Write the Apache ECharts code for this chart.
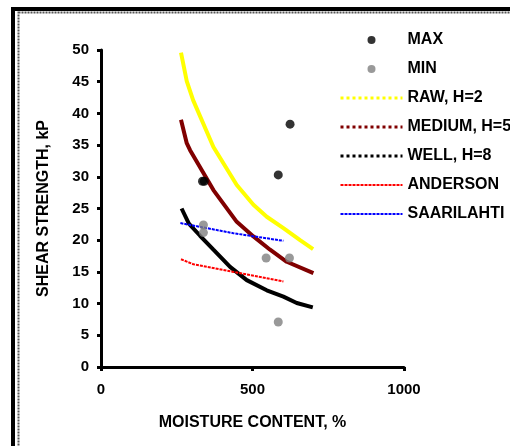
<!DOCTYPE html>
<html><head><meta charset="utf-8">
<script src="https://cdn.jsdelivr.net/npm/echarts@6/dist/echarts.min.js"></script>
<style>html,body{margin:0;padding:0;background:#fff}#c{width:510px;height:446px}</style>
</head><body><div id="c"></div>
<script>
var maxX = [335, 341, 585, 624];
var maxY = [29.3, 29.3, 30.3, 38.3];
var minX = [338, 338, 545, 622, 585];
var minY = [22.4, 21.2, 17.2, 17.2, 7.1];
var rawX = [264, 283, 304, 371, 448, 503, 547, 602, 657, 700];
var rawY = [49.6, 45.1, 42.1, 34.7, 28.7, 25.6, 23.7, 21.9, 20.0, 18.6];
var medX = [264, 283, 294, 371, 448, 503, 558, 613, 701];
var medY = [39.0, 35.3, 34.2, 27.9, 22.9, 20.6, 18.5, 16.6, 14.8];
var wellX = [266, 290, 327, 371, 426, 481, 547, 602, 646, 699];
var wellY = [25.0, 22.6, 20.7, 18.5, 15.8, 13.7, 12.1, 11.1, 10.1, 9.4];
var andX = [264, 305, 437, 602];
var andY = [17.0, 16.2, 15.0, 13.5];
var saaX = [262, 437, 602];
var saaY = [22.7, 21.1, 19.9];
var seriesNames = ['MAX', 'MIN', 'RAW, H=2', 'MEDIUM, H=5', 'WELL, H=8', 'ANDERSON', 'SAARILAHTI'];
var xTicks = [0, 500, 1000];

function pairs(xs, ys) { return xs.map(function (x, i) { return [x, ys[i]]; }); }

var F = '"Liberation Sans", Arial, sans-serif';
var hidden = { color: 'rgba(0,0,0,0)', opacity: 0, borderWidth: 0 };
var chart = echarts.init(document.getElementById('c'));
chart.setOption({
  animation: false,
  backgroundColor: '#fff',
  graphic: [
    { type: 'rect', shape: { x: 13, y: 9, width: 600, height: 500 }, style: { fill: 'none', stroke: '#000', lineWidth: 4 }, silent: true },
    { type: 'rect', shape: { x: 18.5, y: 12.5, width: 600, height: 500 }, style: { fill: 'none', stroke: '#555', lineWidth: 2, lineDash: [2, 1] }, silent: true }
  ],
  grid: { left: 101, right: 106, top: 50, bottom: 79 },
  legend: {
    left: 334, top: 27, orient: 'vertical',
    itemWidth: 62, itemHeight: 8, itemGap: 13,
    textStyle: { fontFamily: F, fontWeight: 'bold', fontSize: 16, color: '#000' },
    data: [
      { name: seriesNames[0], icon: 'circle' },
      { name: seriesNames[1], icon: 'circle' },
      { name: seriesNames[2], lineStyle: { type: 'dotted', width: 3 }, itemStyle: hidden },
      { name: seriesNames[3], lineStyle: { type: 'dotted', width: 3 }, itemStyle: hidden },
      { name: seriesNames[4], lineStyle: { type: 'dotted', width: 3 }, itemStyle: hidden },
      { name: seriesNames[5], lineStyle: { type: [3, 1], width: 2 }, itemStyle: hidden },
      { name: seriesNames[6], lineStyle: { type: [3, 1], width: 2 }, itemStyle: hidden }
    ]
  },
  xAxis: {
    type: 'value', min: 0, max: 1000, interval: 500,
    name: 'MOISTURE CONTENT, %', nameLocation: 'middle', nameGap: 48,
    nameTextStyle: { fontFamily: F, fontWeight: 'bold', fontSize: 16, color: '#000' },
    axisLine: { lineStyle: { color: '#000', width: 3 } },
    axisTick: { show: true, length: 4, lineStyle: { color: '#000', width: 3 } },
    axisLabel: { margin: 15, fontFamily: F, fontWeight: 'bold', fontSize: 15, color: '#000',
      formatter: function (v) { return xTicks.indexOf(v) >= 0 ? String(v) : ''; } },
    splitLine: { show: false }
  },
  yAxis: {
    type: 'value', min: 0, max: 50, interval: 5,
    name: 'SHEAR STRENGTH, kP', nameLocation: 'middle', nameGap: 49, nameRotate: 90,
    nameTextStyle: { fontFamily: F, fontWeight: 'bold', fontSize: 16, color: '#000' },
    axisLine: { show: true, lineStyle: { color: '#000', width: 3 } },
    axisTick: { show: true, length: 4, lineStyle: { color: '#000', width: 3 } },
    axisLabel: { margin: 12, fontFamily: F, fontWeight: 'bold', fontSize: 15, color: '#000' },
    splitLine: { show: false }
  },
  series: [
    { name: seriesNames[0], type: 'scatter', data: pairs(maxX, maxY), symbol: 'circle', symbolSize: 9, itemStyle: { color: '#000' }, z: 5 },
    { name: seriesNames[1], type: 'scatter', data: pairs(minX, minY), symbol: 'circle', symbolSize: 9, itemStyle: { color: '#808080' }, z: 5 },
    { name: seriesNames[2], type: 'line', data: pairs(rawX, rawY), showSymbol: false, symbol: 'none', lineStyle: { color: '#FFFF00', width: 4 }, itemStyle: { color: '#FFFF00' } },
    { name: seriesNames[3], type: 'line', data: pairs(medX, medY), showSymbol: false, symbol: 'none', lineStyle: { color: '#800000', width: 4 }, itemStyle: { color: '#800000' } },
    { name: seriesNames[4], type: 'line', data: pairs(wellX, wellY), showSymbol: false, symbol: 'none', lineStyle: { color: '#000000', width: 4 }, itemStyle: { color: '#000000' } },
    { name: seriesNames[5], type: 'line', data: pairs(andX, andY), showSymbol: false, symbol: 'none', lineStyle: { color: '#FF0000', width: 2, type: [3, 1] }, itemStyle: { color: '#FF0000' } },
    { name: seriesNames[6], type: 'line', data: pairs(saaX, saaY), showSymbol: false, symbol: 'none', lineStyle: { color: '#0000FF', width: 2, type: [3, 1] }, itemStyle: { color: '#0000FF' } }
  ]
});
</script></body></html>
